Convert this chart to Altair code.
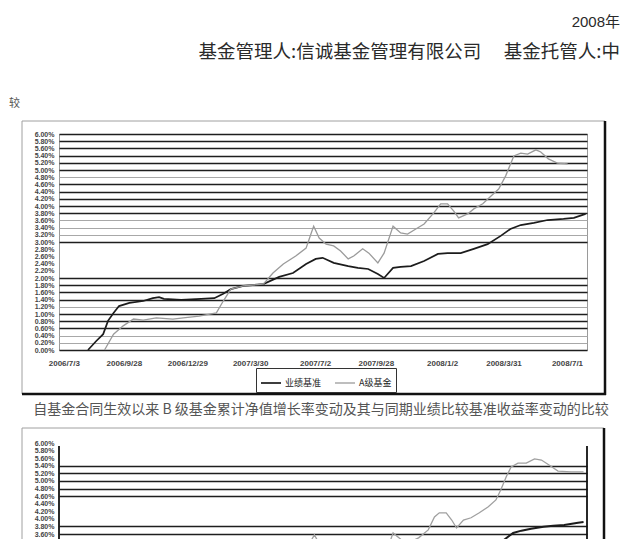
import altair as alt
import pandas as pd

CJK = "Noto Sans CJK SC"
LAT = "Liberation Sans"

START = "2006-06-26"          # left end of both time axes
BENCH = "业绩基准"
FUND_A = "A级基金"
FUND_B = "B级基金"

# ---- chart 1 : cumulative growth (%), days counted from START ----
a_bench_day = [42, 54, 64, 71, 79, 87, 102, 122, 136, 145,
               152, 177, 206, 225, 238, 249, 267, 296, 319, 339,
               358, 372, 382, 398, 419, 433, 448, 462, 471, 484,
               495, 510, 529, 549, 563, 582, 601, 621, 640, 654,
               669, 688, 708, 731, 746, 763]
a_bench_pct = [0.00, 0.25, 0.44, 0.81, 1.03, 1.22, 1.31, 1.36, 1.44, 1.47,
               1.42, 1.39, 1.42, 1.44, 1.56, 1.69, 1.78, 1.83, 2.03, 2.14,
               2.39, 2.53, 2.56, 2.42, 2.33, 2.28, 2.25, 2.11, 2.00, 2.28,
               2.31, 2.33, 2.47, 2.67, 2.69, 2.69, 2.81, 2.94, 3.17, 3.36,
               3.47, 3.53, 3.61, 3.64, 3.67, 3.78]

a_fund_day = [66, 79, 93, 108, 122, 141, 165, 180, 203, 228,
              238, 249, 267, 296, 310, 325, 343, 358, 365, 369,
              377, 387, 398, 408, 419, 427, 440, 449, 462, 471,
              484, 495, 505, 517, 529, 543, 553, 563, 572, 579,
              592, 601, 614, 626, 637, 647, 659, 669, 679, 691,
              698, 709, 722, 737]
a_fund_pct = [0.00, 0.44, 0.67, 0.86, 0.83, 0.89, 0.86, 0.89, 0.94, 1.03,
              1.36, 1.69, 1.78, 1.83, 2.14, 2.39, 2.61, 2.83, 3.22, 3.44,
              3.11, 2.94, 2.89, 2.75, 2.53, 2.61, 2.81, 2.69, 2.42, 2.69,
              3.44, 3.25, 3.22, 3.36, 3.50, 3.81, 4.06, 4.06, 3.86, 3.67,
              3.78, 3.92, 4.06, 4.28, 4.47, 4.83, 5.39, 5.47, 5.44, 5.56,
              5.50, 5.31, 5.19, 5.17]

# ---- chart 2 (only its upper part is visible) ----
b_fund_day = [344, 358, 366, 370, 377, 387, 399, 409, 419, 428,
              441, 450, 463, 471, 484, 496, 506, 521, 535, 544,
              551, 561, 569, 576, 586, 597, 609, 622, 633, 640,
              648, 655, 665, 677, 689, 699, 710, 723, 742, 760]
b_fund_pct = [2.90, 3.15, 3.45, 3.58, 3.35, 3.15, 3.10, 2.95, 2.75, 2.85,
              3.00, 2.90, 2.65, 2.95, 3.63, 3.45, 3.37, 3.50, 3.71, 4.05,
              4.16, 4.16, 3.97, 3.76, 3.97, 4.03, 4.16, 4.32, 4.50, 4.76,
              5.11, 5.37, 5.47, 5.47, 5.58, 5.55, 5.42, 5.26, 5.24, 5.24]
b_bench_day = [554, 583, 612, 636, 645, 658, 670, 684, 702, 716, 732, 752, 760]
b_bench_pct = [2.75, 2.80, 3.00, 3.29, 3.45, 3.63, 3.69, 3.74, 3.79, 3.82,
               3.84, 3.90, 3.92]

# ---- axis ticks ----
x_label_dates = [(2006, 7, 3), (2006, 9, 28), (2006, 12, 29), (2007, 3, 30),
                 (2007, 7, 2), (2007, 9, 28), (2008, 1, 2), (2008, 3, 31),
                 (2008, 7, 1)]
x_domain_dates = [(2006, 6, 26), (2008, 7, 30)]
y_ticks_a = [0.0, 0.2, 0.4, 0.6, 0.8, 1.0, 1.2, 1.4, 1.6, 1.8, 2.0, 2.2, 2.4,
             2.6, 2.8, 3.0, 3.2, 3.4, 3.6, 3.8, 4.0, 4.2, 4.4, 4.6, 4.8, 5.0,
             5.2, 5.4, 5.6, 5.8, 6.0]
y_ticks_b = [3.6, 3.8, 4.0, 4.2, 4.4, 4.6, 4.8, 5.0, 5.2, 5.4, 5.6, 5.8, 6.0]

# ---- texts ----
year_text = "2008年"
header_text = "基金管理人:信诚基金管理有限公司 　基金托管人:中"
prev_caption_tail = "较"
caption_text = "自基金合同生效以来 B 级基金累计净值增长率变动及其与同期业绩比较基准收益率变动的比较"

# grid-line shading of the scanned page (tenths of a percent)
dark_a = [60, 58, 56, 54, 52, 50, 46, 44, 42, 40, 38, 30, 20, 18, 16, 14, 10, 8, 6, 0]
hidden_a = [28, 26, 24, 22]
dark_b = [54, 52, 50, 48, 46, 38, 36]


def series_frame(days, values, name):
    d = pd.Timestamp(START) + pd.to_timedelta(days, unit="D")
    return pd.DataFrame({"date": d.strftime("%Y-%m-%d"), "pct": values, "series": name})


def dt(t):
    return alt.DateTime(year=t[0], month=t[1], date=t[2], utc=True)


def test_in(lst):
    return "indexof([" + ",".join(str(v) for v in lst) + "], round(datum.value*10)) >= 0"


one = pd.DataFrame({"k": [0]})


def text_layer(text, x, y, size, align, color="#2a2a2a", font=CJK):
    return alt.Chart(one).mark_text(text=text, align=align, baseline="alphabetic",
                                    fontSize=size, font=font, color=color).encode(
        x=alt.value(x), y=alt.value(y))


def rule_layer(x, x2, y, y2, color, width):
    return alt.Chart(one).mark_rule(color=color, strokeWidth=width).encode(
        x=alt.value(x), x2=alt.value(x2), y=alt.value(y), y2=alt.value(y2))


W = 528
H1 = 216
H2 = 96

x_scale = alt.Scale(type="utc", domain=[dt(t) for t in x_domain_dates])

df_a = pd.concat([series_frame(a_bench_day, a_bench_pct, BENCH),
                  series_frame(a_fund_day, a_fund_pct, FUND_A)])
df_b = pd.concat([series_frame(b_bench_day, b_bench_pct, BENCH),
                  series_frame(b_fund_day, b_fund_pct, FUND_B)])

y_axis_common = dict(title=None, ticks=False, tickSize=0, domain=False, labelPadding=5,
                     labelFontSize=7, labelFont=LAT, labelFontWeight="bold",
                     labelColor="#444", labelOverlap=False,
                     labelExpr="format(datum.value, '.2f') + '%'")

lines_a = alt.Chart(df_a).mark_line().encode(
    x=alt.X("date:T", scale=x_scale,
            axis=alt.Axis(title=None, values=[dt(t) for t in x_label_dates],
                          format="%Y/%-m/%-d", grid=False, ticks=False, tickSize=0,
                          domain=False, labelPadding=9, labelFontSize=8, labelFont=LAT,
                          labelFontWeight="bold", labelColor="#444",
                          labelOverlap=False, labelFlush=False)),
    y=alt.Y("pct:Q", scale=alt.Scale(domain=[0, 6], nice=False, zero=False),
            axis=alt.Axis(values=y_ticks_a, grid=True,
                          gridColor={"condition": {"test": test_in(dark_a), "value": "#1e1e1e"},
                                     "value": "#a8a8a8"},
                          gridWidth={"condition": {"test": test_in(dark_a), "value": 1.7},
                                     "value": 1.0},
                          gridOpacity={"condition": {"test": test_in(hidden_a), "value": 0},
                                       "value": 1},
                          **y_axis_common)),
    color=alt.Color("series:N",
                    scale=alt.Scale(domain=[BENCH, FUND_A], range=["#1c1c1c", "#9b9b9b"]),
                    legend=alt.Legend(orient="none", legendX=197, legendY=234,
                                      direction="horizontal", title=None,
                                      symbolType="stroke", symbolSize=400,
                                      symbolStrokeWidth=2, labelFontSize=9,
                                      labelFont=CJK, labelColor="#222",
                                      strokeColor="#333", padding=4,
                                      columnPadding=10, labelOffset=3)),
    strokeWidth=alt.StrokeWidth("series:N",
                                scale=alt.Scale(domain=[BENCH, FUND_A], range=[1.7, 1.3]),
                                legend=None),
)

chart1 = alt.layer(
    alt.Chart(one).mark_rect(color="white").encode(
        x=alt.value(-50), x2=alt.value(-49), y=alt.value(-125), y2=alt.value(-124)),
    text_layer(year_text, 561, -107, 15, "right", font=LAT + ", " + CJK),
    text_layer(header_text, 561, -76, 18.5, "right"),
    text_layer(prev_caption_tail, -50, -27, 11, "left", color="#555"),
    alt.Chart(one).mark_rect(filled=False, stroke="#a0a0a0", strokeWidth=1).encode(
        x=alt.value(-37), x2=alt.value(546), y=alt.value(-13), y2=alt.value(260)),
    rule_layer(546, 546, -13, 261, "#111", 2.5),
    rule_layer(-37, 547, 260, 260, "#111", 2.5),
    lines_a,
    text_layer(caption_text, 262, 280, 14, "center", color="#555"),
).properties(width=W, height=H1)

lines_b = alt.Chart(df_b).mark_line(clip=True).encode(
    x=alt.X("date:T", scale=x_scale, axis=None),
    y=alt.Y("pct:Q", scale=alt.Scale(domain=[3.47, 6.0], nice=False, zero=False),
            axis=alt.Axis(values=y_ticks_b, grid=True, gridColor="#1e1e1e", gridWidth=1.7,
                          gridOpacity={"condition": {"test": test_in(dark_b), "value": 1},
                                       "value": 0},
                          **y_axis_common)),
    color=alt.Color("series:N",
                    scale=alt.Scale(domain=[BENCH, FUND_B], range=["#1c1c1c", "#a0a0a0"]),
                    legend=None),
    strokeWidth=alt.StrokeWidth("series:N",
                                scale=alt.Scale(domain=[BENCH, FUND_B], range=[2.0, 1.3]),
                                legend=None),
)

chart2 = alt.layer(
    rule_layer(-37, 545, -15, -15, "#a0a0a0", 1),
    rule_layer(-37, -37, -15, H2, "#a0a0a0", 1),
    rule_layer(545, 545, -15, H2, "#111", 2.5),
    rule_layer(0, 0, 3, H2, "#111", 1.8),
    rule_layer(W, W, 3, H2, "#111", 1.8),
    lines_b,
).properties(width=W, height=H2, view=alt.ViewBackground(stroke="transparent"))

chart = alt.vconcat(chart1, chart2, spacing=93, bounds="flush", padding=0).resolve_scale(
    color="independent", strokeWidth="independent"
).resolve_legend(color="independent", strokeWidth="independent").configure_view(
    stroke="#9a9a9a", strokeWidth=1
)

chart.save("out.html", embed_options={"renderer": "svg", "actions": False})
